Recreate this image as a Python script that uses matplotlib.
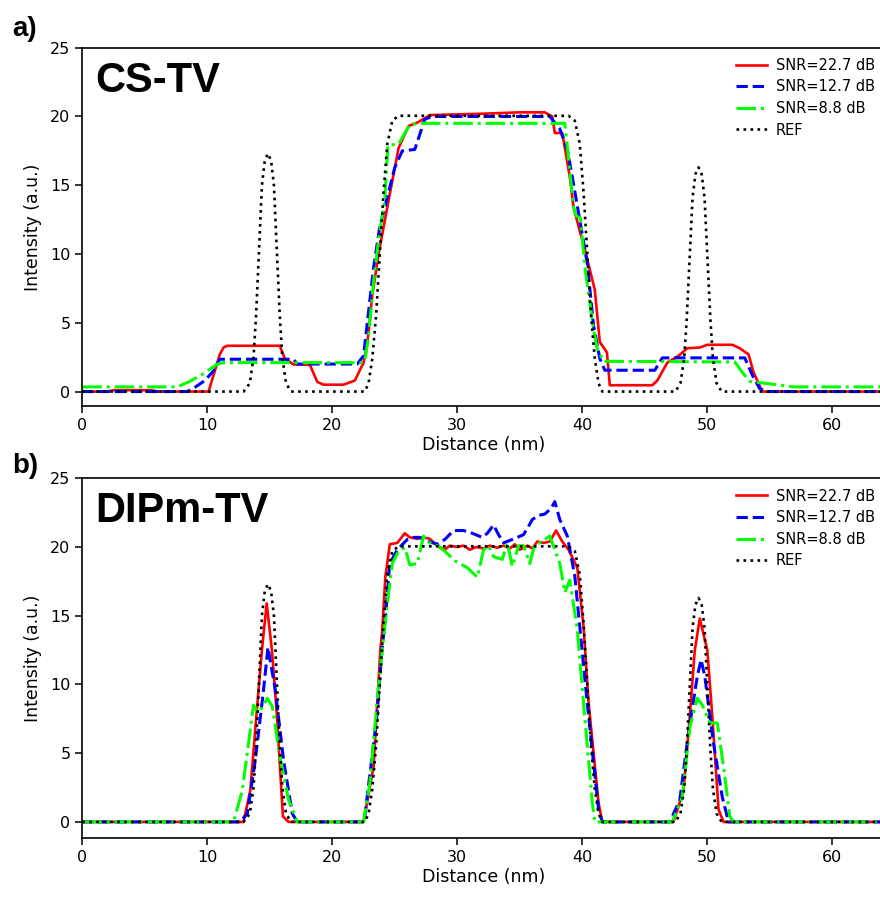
import matplotlib
matplotlib.use("Agg")
import matplotlib.pyplot as plt

# ---------------- data (distance in nm, intensity in a.u.) ----------------
ref_x = [0, 12.9, 13.4, 13.7, 13.9, 14.1, 14.37, 14.6, 14.85, 15.1, 15.33, 15.6, 15.8, 16.0, 16.3, 16.7,
         22.6, 22.9, 23.2, 23.5, 23.8, 24.1, 24.4, 24.8, 25.3, 38.9, 39.4, 39.8, 40.1, 40.4, 40.7, 41.0, 41.3, 41.6,
         47.45, 47.85, 48.15, 48.35, 48.55, 48.82, 49.05, 49.3, 49.55, 49.78, 50.05, 50.25, 50.45, 50.75, 51.15, 64.5]
ref_y = [0, 0, 0.6, 2.5, 5.5, 9.5, 15.0, 16.8, 17.3, 16.8, 15.0, 9.5, 5.5, 2.5, 0.6, 0,
         0, 0.6, 2.4, 5.5, 10.0, 14.5, 18.0, 19.7, 20.05, 20.05, 19.7, 18.0, 14.5, 10.0, 5.5, 2.4, 0.6, 0,
         0, 0.6, 2.4, 5.2, 9.0, 14.1, 15.8, 16.3, 15.8, 14.1, 9.0, 5.2, 2.4, 0.6, 0, 0]

# panel a) CS-TV
cs_hi_x = [0, 2.0, 2.5, 5.5, 6.0, 10.1, 11.0, 11.3, 11.6, 15.8, 16.2, 16.9, 18.2, 18.8, 19.3, 20.9, 21.8, 22.5,
           22.8, 23.2, 23.7, 24.4, 25.3, 26.1, 26.9, 27.8, 32.0, 35.0, 37.0, 37.6, 37.8, 38.4, 39.0, 39.3,
           40.4, 41.0, 41.4, 41.97, 42.2, 45.6, 46.0, 46.8, 47.7, 48.4, 49.4, 50.0, 52.0, 52.6, 53.3, 53.7, 54.4, 64.5]
cs_hi_y = [0, 0, 0.1, 0.1, 0, 0, 2.7, 3.2, 3.33, 3.33, 2.4, 1.97, 1.95, 0.7, 0.5, 0.5, 0.8, 2.1,
           3.5, 7.0, 10.0, 13.4, 17.7, 19.3, 19.6, 20.1, 20.2, 20.3, 20.3, 20.0, 18.8, 18.8, 15.6, 13.4,
           9.6, 7.4, 3.6, 2.85, 0.46, 0.46, 0.8, 2.1, 2.6, 3.15, 3.2, 3.4, 3.4, 3.15, 2.7, 1.4, 0, 0]
cs_mid_x = [0, 8.4, 9.0, 9.8, 10.5, 11.0, 16.9, 17.2, 22.0, 22.5, 22.8, 23.3, 23.8, 24.2, 25.0, 25.6, 26.6,
            27.4, 28.0, 37.4, 38.2, 38.8, 39.2, 40.4, 40.9, 41.4, 41.8, 45.8, 46.4, 53.0, 53.6, 54.2, 54.8, 64.5]
cs_mid_y = [0, 0, 0.3, 0.8, 1.5, 2.35, 2.35, 2.0, 2.0, 2.6, 5.0, 9.0, 12.0, 13.4, 16.3, 17.5, 17.6,
            19.8, 20.0, 20.0, 19.1, 17.6, 15.6, 9.3, 4.8, 2.4, 1.55, 1.55, 2.45, 2.45, 1.2, 0.2, 0, 0]
cs_lo_x = [0, 7.6, 8.6, 9.7, 10.8, 11.3, 22.3, 22.6, 22.9, 23.3, 23.7, 24.2, 24.45, 25.3, 26.2, 27.0, 38.6,
           38.8, 39.3, 39.5, 39.85, 40.2, 40.9, 41.2, 41.7, 52.2, 52.8, 53.4, 54.2, 55.5, 56.9, 64.5]
cs_lo_y = [0.34, 0.34, 0.74, 1.3, 2.0, 2.1, 2.1, 2.2, 4.0, 8.0, 11.0, 14.0, 17.9, 18.0, 19.4, 19.5, 19.5,
           17.8, 13.4, 12.8, 12.6, 9.1, 4.5, 3.1, 2.2, 2.15, 1.4, 0.74, 0.65, 0.5, 0.34, 0.34]

# panel b) DIPm-TV
dip_hi_x = [0, 12.9, 13.44, 13.97, 14.37, 14.75, 15.17, 15.57, 16.05, 16.5, 22.5, 23.3, 23.84, 24.0, 24.24,
            24.6, 25.2, 25.8, 26.2, 26.8, 27.3, 27.8, 28.4, 29.0, 29.4, 30.0, 30.5, 31.0, 31.5, 32.1, 32.6,
            33.2, 33.7, 34.2, 34.6, 35.0, 35.6, 36.0, 36.4, 36.9, 37.4, 37.9, 38.4, 38.9, 39.6, 40.1, 40.5,
            41.3, 41.6, 47.3, 48.1, 48.6, 49.0, 49.4, 50.0, 50.4, 50.9, 51.3, 64.5]
dip_hi_y = [0, 0, 2.3, 8.2, 12.5, 15.9, 12.5, 7.7, 0.4, 0, 0, 4.0, 12.5, 14.0, 17.8,
            20.2, 20.3, 21.0, 20.7, 20.6, 20.7, 20.6, 20.1, 19.8, 20.1, 20.0, 20.1, 19.8, 20.0, 19.9, 20.1,
            19.95, 20.1, 19.9, 20.2, 19.8, 20.1, 19.9, 20.4, 20.3, 20.4, 21.2, 20.4, 19.8, 18.5, 14.2, 8.7,
            1.4, 0, 0, 2.3, 7.7, 12.5, 14.8, 12.5, 7.7, 0.9, 0, 0]
dip_mid_x = [0, 12.6, 13.2, 13.84, 14.5, 14.85, 15.44, 16.1, 16.8, 17.2, 22.3, 22.6, 23.57, 23.97, 24.24,
             24.6, 25.2, 26.0, 26.5, 27.0, 27.7, 28.4, 29.0, 29.7, 30.5, 31.2, 32.0, 32.4, 32.9, 33.3, 33.7,
             34.4, 34.8, 35.3, 35.7, 36.0, 36.5, 37.0, 37.5, 37.8, 38.2, 38.8, 39.4, 40.4, 41.3, 41.6,
             47.0, 47.8, 48.5, 49.2, 49.5, 49.8, 50.5, 51.2, 51.7, 64.5]
dip_mid_y = [0, 0, 0.6, 4.5, 9.6, 12.7, 9.6, 4.5, 0.6, 0, 0, 0.4, 7.7, 12.5, 14.7,
             18.8, 19.8, 20.55, 20.7, 20.7, 20.4, 20.2, 20.55, 21.2, 21.2, 21.0, 20.7, 21.0, 21.6, 20.9, 20.3,
             20.55, 20.7, 20.9, 21.5, 22.0, 22.3, 22.4, 22.8, 23.3, 22.0, 20.8, 17.9, 8.6, 0.9, 0,
             0, 1.6, 6.5, 10.6, 11.8, 10.6, 5.7, 1.8, 0, 0]
dip_lo_x = [0, 12.1, 12.8, 13.7, 14.1, 14.8, 15.2, 15.8, 16.5, 17.2, 22.5, 23.0, 23.6, 24.0, 24.4, 24.8,
            25.3, 25.8, 26.2, 26.8, 27.3, 27.8, 28.4, 29.0, 29.8, 30.8, 31.6, 32.1, 32.5, 32.9, 33.6, 34.0,
            34.4, 34.9, 35.3, 35.8, 36.2, 36.6, 37.4, 38.2, 38.6, 39.0, 39.6, 40.1, 40.8, 41.0,
            47.2, 48.0, 48.6, 49.2, 49.6, 50.2, 50.8, 51.3, 51.8, 52.1, 64.5]
dip_lo_y = [0, 0, 2.3, 8.5, 7.9, 9.0, 8.4, 4.8, 1.6, 0, 0, 2.8, 8.9, 12.5, 15.9, 18.8,
            19.7, 19.95, 18.7, 18.8, 20.8, 20.3, 20.1, 19.7, 19.0, 18.5, 17.8, 19.8, 20.1, 19.3, 19.1, 20.3,
            18.6, 20.1, 20.1, 18.8, 20.2, 20.3, 20.8, 18.8, 16.7, 17.6, 14.0, 8.6, 1.4, 0,
            0, 1.8, 6.9, 9.0, 8.5, 7.2, 7.2, 4.0, 0.4, 0, 0]

labels = ["SNR=22.7 dB", "SNR=12.7 dB", "SNR=8.8 dB", "REF"]
x_ticks = [0, 10, 20, 30, 40, 50, 60]
y_ticks = [0, 5, 10, 15, 20, 25]

# ---------------- figure ----------------
W, H = 880, 897
fig = plt.figure(figsize=(W / 100, H / 100), dpi=100)

def px_axes(left, top, right, bottom):
    return fig.add_axes([left / W, 1 - bottom / H, (right - left) / W, (bottom - top) / H])

panels = [
    (px_axes(82.3, 47.7, 885, 406), (cs_hi_x, cs_hi_y), (cs_mid_x, cs_mid_y), (cs_lo_x, cs_lo_y),
     "CS-TV", 92, "a)", 36, -1.05),
    (px_axes(82.3, 478.3, 885, 838), (dip_hi_x, dip_hi_y), (dip_mid_x, dip_mid_y), (dip_lo_x, dip_lo_y),
     "DIPm-TV", 522, "b)", 473, -1.17),
]

for ax, hi, mid, lo, title, title_base, tag, tag_base, ymin in panels:
    ax.plot(hi[0], hi[1], color="#ff0000", lw=1.9, ls="-", label=labels[0])
    ax.plot(mid[0], mid[1], color="#0000ff", lw=2.2, ls="--", label=labels[1])
    ax.plot(lo[0], lo[1], color="#00ff00", lw=2.2, ls="-.", label=labels[2])
    ax.plot(ref_x, ref_y, color="black", lw=1.9, ls=":", label=labels[3])
    ax.set_xlim(0, (885 - 82.3) / 12.5)
    ax.set_ylim(ymin, 25)
    ax.set_xticks(x_ticks)
    ax.set_yticks(y_ticks)
    ax.tick_params(labelsize=11.5, width=1.1, length=5)
    for s in ax.spines.values():
        s.set_linewidth(1.2)
    ax.spines["right"].set_visible(False)
    ax.set_xlabel("Distance (nm)", fontsize=12.5, labelpad=2)
    ax.set_ylabel("Intensity (a.u.)", fontsize=12.5, labelpad=6)
    leg = ax.legend(loc="upper right", frameon=False, fontsize=10.5, handlelength=2.1,
                    handletextpad=0.6, labelspacing=0.45, borderaxespad=0.3)
    fig.text(95 / W, 1 - title_base / H, title, fontsize=30, fontweight="bold",
             family=["Liberation Sans", "DejaVu Sans"], va="baseline", ha="left")
    fig.text(12 / W, 1 - tag_base / H, tag, fontsize=20, fontweight="bold",
             family=["Liberation Sans", "DejaVu Sans"], va="baseline", ha="left")

fig.savefig("out.png", dpi=100)
